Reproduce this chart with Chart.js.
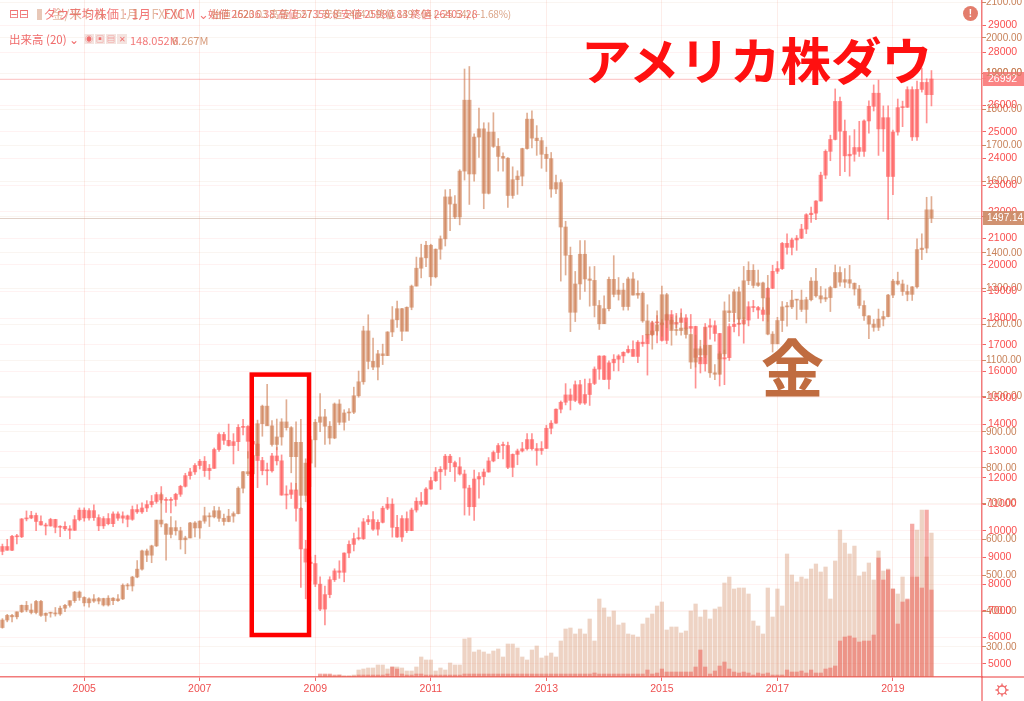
<!DOCTYPE html>
<html>
<head>
<meta charset="utf-8">
<script src="https://cdn.jsdelivr.net/npm/chart.js@4.4.0/dist/chart.umd.min.js"></script>
<style>
html, body { margin: 0; padding: 0; background: #fff; }
#wrap { position: relative; width: 1024px; height: 701px; overflow: hidden; font-family: "Noto Sans CJK JP", "Noto Sans", sans-serif; }
#wrap canvas { position: absolute; left: 0; top: 0; }
.t { position: absolute; white-space: nowrap; line-height: 1; }
.ico { display: inline-block; width: 10px; height: 10px; margin-right: 1px; background: #f4e4e0; color: #f07070; font-size: 8px; text-align: center; line-height: 10px; vertical-align: middle; }
</style>
</head>
<body>
<div id="wrap">
  <canvas id="chart" width="1024" height="701"></canvas>

  <!-- header legend (two legends lying on top of each other) -->
  <div class="t" style="left:9px;top:8px;font-size:12px;color:#f07272;font-family:'DejaVu Sans'">⊟⊟</div>
  <div class="t" style="left:37px;top:9px;width:5px;height:11px;background:#e8c8b8"></div>
  <div class="t" style="left:44px;top:8px;font-size:12.5px;color:rgba(240,95,95,0.85)">ダウ平均株価 · 1月 · FXCM ⌄</div>
  <div class="t" style="left:52px;top:8px;font-size:12.5px;color:rgba(205,130,90,0.55)">金/米ドル · 1月 · FXCM</div>
  <div class="t" style="left:208px;top:9px;font-size:10.5px;color:rgba(240,95,95,0.85)">始値 26236.38 高値 27358.8 安値 25980.83 終値 26403.28</div>
  <div class="t" style="left:211px;top:9px;font-size:10px;letter-spacing:-0.2px;color:rgba(205,130,90,0.75)">始値 1520.03 高値 1557.1 安値 1484.0 終値 1497.04 (−25.54) (−1.68%)</div>

  <div class="t" style="left:9px;top:34px;font-size:11.5px;color:#f06a6a">出来高 (20) ⌄</div>
  <div class="t" style="left:84px;top:34px;font-size:8px"><span class="ico">◉</span><span class="ico">▣</span><span class="ico">▤</span><span class="ico">✕</span></div>
  <div class="t" style="left:130px;top:35px;font-size:11px;color:rgba(240,95,95,0.85)">148.052M</div>
  <div class="t" style="left:172px;top:35px;font-size:11px;color:rgba(205,130,90,0.8)">6.267M</div>

  <!-- alert badge -->
  <div class="t" style="left:963px;top:6px;width:15px;height:15px;border-radius:50%;background:#e37d6c;color:#fff;font:bold 10px 'Liberation Sans';text-align:center;line-height:15px">!</div>

  <!-- annotations -->
  <div class="t" style="left:581px;top:33px;font-size:50.5px;font-weight:700;color:#ff1010">アメリカ株ダウ</div>
  <div class="t" style="left:761px;top:333px;font-size:63px;font-weight:700;color:#c06c40">金</div>
</div>

<script>
// Categories: monthly candles, Aug 2003 .. Jul 2020 (last ten months empty)
const months = []
for (let i = 0; i < 204; i++) {
    const m = 7 + i
    months.push(`${2003 + Math.floor(m / 12)}-${String(m % 12 + 1).padStart(2, '0')}`)
}
const yearTicks = ['2005', '2007', '2009', '2011', '2013', '2015', '2017', '2019']
const dowTicks = [5000, 6000, 7000, 8000, 9000, 10000, 11000, 12000, 13000, 14000, 15000, 16000, 17000,
    18000, 19000, 20000, 21000, 22000, 23000, 24000, 25000, 26000, 27000, 28000, 29000]
const goldTicks = [300, 400, 500, 600, 700, 800, 900, 1000, 1100, 1200, 1300, 1400, 1500, 1600, 1700,
    1800, 1900, 2000, 2100]

// Dow Jones monthly OHLC
const dowOpen = [
    9233, 9416, 9275, 9801, 9782,
    10454, 10488, 10584, 10358, 10226, 10188, 10435, 10140, 10174, 10080, 10027, 10428,
    10783, 10490, 10766, 10504, 10193, 10467, 10275, 10641, 10482, 10569, 10440, 10806,
    10718, 10865, 10993, 11109, 11367, 11168, 11150, 11186, 11381, 11679, 12081, 12222,
    12463, 12622, 12269, 12354, 13063, 13628, 13409, 13212, 13358, 13896, 13930, 13372,
    13265, 12650, 12266, 12263, 12820, 12638, 11350, 11378, 11544, 10851, 9325, 8829,
    8776, 8001, 7063, 7609, 8168, 8500, 8447, 9172, 9496, 9712, 9713, 10345,
    10428, 10067, 10325, 10857, 11009, 10137, 9774, 10466, 10015, 10788, 11118, 11006,
    11578, 11892, 12226, 12320, 12811, 12570, 12414, 12143, 11614, 10913, 11955, 12046,
    12218, 12633, 12952, 13212, 13214, 12393, 12880, 13009, 13091, 13437, 13096, 13026,
    13104, 13861, 14054, 14579, 14840, 15116, 14910, 15500, 14810, 15130, 15546, 16086,
    16577, 15699, 16322, 16458, 16581, 16717, 16827, 16563, 17098, 17043, 17391, 17828,
    17823, 17165, 18133, 17776, 17841, 18011, 17620, 17690, 16528, 16285, 17664, 17720,
    17425, 16466, 16517, 17685, 17774, 17787, 17930, 18432, 18401, 18308, 18142, 19124,
    19763, 19864, 20812, 20663, 20941, 21009, 21350, 21891, 21948, 22405, 23377, 24272,
    24719, 26149, 25029, 24103, 24163, 24416, 24271, 25415, 25965, 26458, 25116, 25538,
    23327, 24999, 25916, 25929, 26593, 24815, 26600, 26864, 26403
]
const dowHigh = [
    9508, 9686, 9838, 9872, 10470,
    10754, 10738, 10678, 10570, 10295, 10479, 10440, 10200, 10348, 10200, 10580, 10868,
    10870, 10842, 10984, 10610, 10542, 10656, 10720, 10720, 10720, 10600, 10940, 10990,
    11060, 11140, 11335, 11450, 11670, 11260, 11260, 11420, 11720, 12170, 12360, 12530,
    12690, 12800, 12500, 13120, 13690, 13710, 14020, 13660, 14000, 14200, 13960, 13790,
    13280, 12770, 12550, 12920, 13140, 12860, 11700, 11810, 11790, 10880, 9650, 9030,
    9090, 8280, 7930, 8280, 8580, 8880, 9180, 9630, 9920, 10120, 10470, 10580,
    10730, 10420, 10930, 11260, 11210, 10590, 10580, 10720, 10860, 11250, 11450, 11630,
    12020, 12390, 12420, 12880, 12880, 12630, 12760, 12290, 11720, 12290, 12200, 12330,
    12760, 13010, 13290, 13340, 13340, 12900, 13080, 13330, 13660, 13660, 13290, 13360,
    13970, 14150, 14590, 14890, 15540, 15340, 15640, 15660, 15710, 15720, 16170, 16590,
    16590, 16400, 16630, 16630, 16740, 16960, 17150, 17160, 17350, 17400, 17890, 18100,
    17950, 18160, 18290, 18180, 18350, 18140, 18140, 17700, 16930, 17800, 17980, 17900,
    17430, 16800, 17790, 18170, 18000, 18020, 18620, 18670, 18450, 18400, 19150, 19990,
    20130, 20850, 21170, 21010, 21110, 21530, 21930, 22180, 22420, 23490, 24330, 24880,
    26620, 26310, 25450, 24860, 25090, 25400, 25460, 26170, 26770, 26950, 25980, 25980,
    25070, 26240, 26160, 26700, 26700, 26910, 27400, 27000, 27310
]
const dowLow = [
    9106, 9275, 9260, 9510, 9750,
    10380, 10460, 10008, 10220, 9852, 10180, 9930, 9785, 10010, 9708, 10020, 10380,
    10368, 10410, 10400, 10012, 10094, 10230, 10160, 10400, 10300, 10156, 10400, 10660,
    10660, 10730, 10900, 11040, 11050, 10700, 10680, 10940, 11300, 11650, 11950, 12130,
    12330, 12050, 11940, 12350, 12990, 13250, 13190, 12520, 13020, 13610, 12740, 13090,
    11630, 12110, 11730, 12210, 12480, 11340, 10830, 11220, 10370, 7880, 7450, 8120,
    7910, 7000, 6470, 7490, 8100, 8220, 8090, 9000, 9250, 9660, 9680, 10240,
    10020, 9840, 10300, 10800, 9770, 9760, 9610, 9940, 10010, 10710, 10930, 11000,
    11570, 11860, 11560, 12090, 12230, 11860, 12100, 10600, 10590, 10400, 11230, 11730,
    12210, 12600, 12720, 12710, 12340, 12040, 12490, 12970, 13040, 13040, 12470, 12880,
    13100, 13650, 14040, 14440, 14740, 14550, 14860, 14760, 14760, 14720, 15500, 15700,
    15690, 15340, 16020, 16020, 16330, 16690, 16560, 16330, 16940, 15860, 17340, 17070,
    17140, 17040, 17580, 17640, 17850, 17560, 17460, 15370, 15940, 16010, 17210, 17140,
    15450, 15500, 16410, 17480, 17330, 17060, 17710, 18240, 17990, 17900, 17880, 19110,
    19680, 19830, 20410, 20380, 20550, 20990, 21180, 21600, 21700, 22400, 23240, 23920,
    24700, 23360, 23510, 23340, 23900, 24080, 24080, 24960, 25790, 24120, 24270, 21710,
    22640, 24880, 25200, 25920, 24680, 24680, 26500, 25340, 25980
]
const dowClose = [
    9416, 9275, 9801, 9782, 10454,
    10488, 10584, 10358, 10226, 10188, 10435, 10140, 10174, 10080, 10027, 10428, 10783,
    10490, 10766, 10504, 10193, 10467, 10275, 10641, 10482, 10569, 10440, 10806, 10718,
    10865, 10993, 11109, 11367, 11168, 11150, 11186, 11381, 11679, 12081, 12222, 12463,
    12622, 12269, 12354, 13063, 13628, 13409, 13212, 13358, 13896, 13930, 13372, 13265,
    12650, 12266, 12263, 12820, 12638, 11350, 11378, 11544, 10851, 9325, 8829, 8776,
    8001, 7063, 7609, 8168, 8500, 8447, 9172, 9496, 9712, 9713, 10345, 10428,
    10067, 10325, 10857, 11009, 10137, 9774, 10466, 10015, 10788, 11118, 11006, 11578,
    11892, 12226, 12320, 12811, 12570, 12414, 12143, 11614, 10913, 11955, 12046, 12218,
    12633, 12952, 13212, 13214, 12393, 12880, 13009, 13091, 13437, 13096, 13026, 13104,
    13861, 14054, 14579, 14840, 15116, 14910, 15500, 14810, 15130, 15546, 16086, 16577,
    15699, 16322, 16458, 16581, 16717, 16827, 16563, 17098, 17043, 17391, 17828, 17823,
    17165, 18133, 17776, 17841, 18011, 17620, 17690, 16528, 16285, 17664, 17720, 17425,
    16466, 16517, 17685, 17774, 17787, 17930, 18432, 18401, 18308, 18142, 19124, 19763,
    19864, 20812, 20663, 20941, 21009, 21350, 21891, 21948, 22405, 23377, 24272, 24719,
    26149, 25029, 24103, 24163, 24416, 24271, 25415, 25965, 26458, 25116, 25538, 23327,
    24999, 25916, 25929, 26593, 24815, 26600, 26864, 26403, 26992
]

// Gold (XAU/USD) monthly OHLC
const goldOpen = [
    354, 375, 388, 384, 398,
    416, 403, 396, 427, 388, 394, 395, 392, 408, 416, 429, 453,
    438, 423, 434, 428, 435, 417, 436, 429, 434, 472, 470, 495,
    517, 568, 556, 582, 654, 643, 614, 633, 624, 599, 604, 646,
    632, 651, 666, 663, 680, 659, 650, 665, 672, 743, 789, 783,
    834, 923, 972, 917, 865, 886, 928, 912, 831, 871, 723, 813,
    878, 927, 942, 916, 883, 978, 927, 953, 955, 1001, 1040, 1182,
    1097, 1081, 1118, 1113, 1179, 1213, 1244, 1181, 1248, 1307, 1357, 1386,
    1421, 1333, 1410, 1439, 1556, 1536, 1500, 1628, 1826, 1620, 1723, 1746,
    1566, 1737, 1697, 1669, 1664, 1560, 1604, 1614, 1691, 1773, 1720, 1713,
    1675, 1663, 1578, 1596, 1472, 1393, 1234, 1313, 1396, 1327, 1323, 1253,
    1202, 1244, 1326, 1284, 1296, 1250, 1327, 1282, 1287, 1210, 1171, 1182,
    1199, 1283, 1212, 1183, 1183, 1190, 1172, 1095, 1132, 1115, 1142, 1065,
    1061, 1118, 1238, 1233, 1291, 1215, 1322, 1351, 1309, 1316, 1274, 1173,
    1146, 1211, 1249, 1249, 1268, 1268, 1242, 1269, 1321, 1280, 1271, 1275,
    1303, 1345, 1318, 1325, 1315, 1299, 1253, 1224, 1201, 1192, 1215, 1222,
    1282, 1321, 1313, 1292, 1284, 1305, 1409, 1413, 1520
]
const goldHigh = [
    379, 391, 391, 398, 417,
    427, 420, 430, 430, 395, 397, 410, 414, 419, 429, 455, 456,
    440, 437, 446, 438, 436, 443, 438, 446, 476, 477, 497, 541,
    570, 573, 584, 654, 730, 644, 664, 652, 634, 609, 648, 650,
    652, 690, 674, 692, 690, 671, 684, 677, 747, 790, 845, 840,
    933, 975, 1033, 932, 936, 937, 990, 915, 928, 935, 825, 888,
    935, 1007, 963, 929, 981, 990, 962, 965, 1025, 1070, 1195, 1227,
    1162, 1128, 1145, 1180, 1250, 1265, 1245, 1249, 1310, 1388, 1424, 1432,
    1424, 1411, 1447, 1576, 1577, 1560, 1632, 1913, 1920, 1732, 1804, 1763,
    1763, 1791, 1719, 1679, 1666, 1640, 1629, 1692, 1790, 1796, 1755, 1722,
    1695, 1680, 1617, 1604, 1488, 1416, 1348, 1434, 1434, 1361, 1362, 1267,
    1280, 1332, 1392, 1331, 1315, 1332, 1345, 1322, 1291, 1255, 1208, 1238,
    1307, 1287, 1220, 1224, 1232, 1205, 1175, 1170, 1156, 1191, 1142, 1088,
    1124, 1263, 1283, 1297, 1304, 1362, 1375, 1367, 1352, 1318, 1337, 1180,
    1220, 1264, 1262, 1295, 1270, 1296, 1276, 1331, 1357, 1306, 1299, 1307,
    1366, 1361, 1356, 1365, 1316, 1309, 1266, 1225, 1214, 1243, 1237, 1284,
    1326, 1346, 1324, 1310, 1306, 1439, 1453, 1555, 1557
]
const goldLow = [
    352, 370, 370, 378, 396,
    398, 392, 392, 385, 371, 383, 386, 388, 398, 411, 424, 430,
    414, 411, 424, 420, 414, 414, 418, 427, 432, 460, 456, 493,
    514, 538, 535, 580, 635, 542, 604, 612, 573, 560, 604, 607,
    603, 645, 636, 660, 650, 640, 649, 648, 671, 730, 778, 780,
    834, 888, 918, 860, 850, 863, 905, 786, 737, 681, 705, 747,
    802, 901, 865, 866, 881, 920, 905, 932, 951, 997, 1033, 1076,
    1074, 1045, 1088, 1113, 1166, 1192, 1155, 1182, 1241, 1307, 1330, 1361,
    1309, 1330, 1382, 1419, 1462, 1495, 1478, 1603, 1535, 1600, 1666, 1523,
    1564, 1694, 1628, 1628, 1527, 1552, 1563, 1587, 1689, 1693, 1672, 1636,
    1627, 1555, 1565, 1321, 1338, 1180, 1208, 1270, 1292, 1251, 1221, 1186,
    1202, 1238, 1277, 1268, 1240, 1240, 1282, 1273, 1206, 1161, 1131, 1170,
    1167, 1191, 1142, 1170, 1170, 1162, 1077, 1081, 1098, 1107, 1052, 1046,
    1061, 1111, 1208, 1208, 1200, 1199, 1311, 1302, 1306, 1241, 1171, 1123,
    1146, 1180, 1195, 1244, 1214, 1236, 1204, 1266, 1276, 1260, 1264, 1236,
    1302, 1307, 1303, 1302, 1282, 1245, 1211, 1160, 1181, 1183, 1196, 1221,
    1275, 1310, 1281, 1266, 1267, 1301, 1381, 1400, 1484
]
const goldClose = [
    375, 388, 384, 398, 416,
    403, 396, 427, 388, 394, 395, 392, 408, 416, 429, 453, 438,
    423, 434, 428, 435, 417, 436, 429, 434, 472, 470, 495, 517,
    568, 556, 582, 654, 643, 614, 633, 624, 599, 604, 646, 632,
    651, 666, 663, 680, 659, 650, 665, 672, 743, 789, 783, 834,
    923, 972, 917, 865, 886, 928, 912, 831, 871, 723, 813, 878,
    927, 942, 916, 883, 978, 927, 953, 955, 1001, 1040, 1182, 1097,
    1081, 1118, 1113, 1179, 1213, 1244, 1181, 1248, 1307, 1357, 1386, 1421,
    1333, 1410, 1439, 1556, 1536, 1500, 1628, 1826, 1620, 1723, 1746, 1566,
    1737, 1697, 1669, 1664, 1560, 1604, 1614, 1691, 1773, 1720, 1713, 1675,
    1663, 1578, 1596, 1472, 1393, 1234, 1313, 1396, 1327, 1323, 1253, 1202,
    1244, 1326, 1284, 1296, 1250, 1327, 1282, 1287, 1210, 1171, 1182, 1199,
    1283, 1212, 1183, 1183, 1190, 1172, 1095, 1132, 1115, 1142, 1065, 1061,
    1118, 1238, 1233, 1291, 1215, 1322, 1351, 1309, 1316, 1274, 1173, 1146,
    1211, 1249, 1249, 1268, 1268, 1242, 1269, 1321, 1280, 1271, 1275, 1303,
    1345, 1318, 1325, 1315, 1299, 1253, 1224, 1201, 1192, 1215, 1222, 1282,
    1321, 1313, 1292, 1284, 1305, 1409, 1413, 1520, 1497.14
]

// Volume (thousands), null = no data
const goldVolume = [
    null, null, null, null, null,
    null, null, null, null, null, null, null, null, null, null, null, null,
    null, null, null, null, null, null, null, null, null, null, null, null,
    null, null, null, null, null, null, null, null, null, null, null, null,
    null, null, null, null, null, null, null, null, null, null, null, null,
    null, null, null, null, null, null, null, null, null, null, null, null,
    null, 1, 2, 2, 1, 2, 1, 1, 2, 7, 8, 9,
    9, 12, 12, 8, 10, 10, 9, 6, 6, 10, 20, 17,
    17, 6, 9, 7, 14, 12, 12, 38, 39, 25, 27, 25,
    23, 26, 28, 20, 33, 33, 29, 20, 17, 27, 31, 19,
    21, 24, 20, 36, 48, 49, 43, 48, 43, 58, 36, 78,
    69, 60, 66, 52, 54, 43, 42, 40, 53, 59, 63, 71,
    75, 47, 50, 50, 44, 46, 66, 73, 60, 67, 58, 68,
    70, 94, 100, 88, 89, 89, 83, 56, 51, 43, 89, 60,
    88, 71, 123, 102, 95, 100, 98, 108, 113, 105, 110, 78,
    116, 147, 134, 123, 131, 101, 105, 114, 97, 126, 106, 108,
    88, 83, 100, 77, 100, 147, 167, 120, 144
]
const dowVolume = [
    null, null, null, null, null,
    null, null, null, null, null, null, null, null, null, null, null, null,
    null, null, null, null, null, null, null, null, null, null, null, null,
    null, null, null, null, null, null, null, null, null, null, null, null,
    null, null, null, null, null, null, null, null, null, null, null, null,
    null, null, null, null, null, null, null, null, null, null, null, null,
    null, 3, 3, 3, 2, 2, 1, 1, 1, 2, 2, 2,
    2, 2, 2, 3, 10, 8, 3, 2, 2, 3, 3, 2,
    2, 2, 2, 2, 2, 2, 2, 3, 3, 3, 3, 3,
    3, 3, 3, 3, 3, 3, 3, 3, 3, 3, 3, 3,
    3, 3, 3, 3, 3, 3, 3, 3, 3, 3, 4, 3,
    3, 3, 3, 3, 3, 3, 3, 3, 3, 7, 3, 4,
    8, 5, 5, 5, 5, 5, 5, 10, 27, 10, 3, 6,
    11, 15, 8, 5, 4, 5, 4, 2, 4, 3, 4, 2,
    2, 2, 7, 5, 5, 6, 4, 7, 4, 4, 8, 9,
    11, 36, 40, 41, 39, 35, 36, 36, 42, 119, 97, 107,
    88, 53, 75, 78, 153, 100, 89, 167, 87
]

// Annotation: red box around 2008 (category index / Dow value)
const crashBox = { from: 51.8, to: 63.7, top: 15880, bottom: 6090 }
const dowLast = 26992
const goldLast = 1497.14

const DOW = 'rgba(255,90,90,0.66)'
const GOLD = 'rgba(205,125,80,0.62)'
const DOW_FONT = { family: 'Liberation Sans', size: 10.5 }
const GOLD_FONT = { family: 'Liberation Sans', size: 10 }

function pairs (a, b) {
    return a.map((v, i) => [v, b[i]])
}

// Extra drawing: price lines, red box, price tags, icons
const overlayPlugin = {
    id: 'overlay',
    afterLayout (chart) {
        // gold axis takes no room in the layout but shares the Dow axis strip
        const g = chart.scales.yGold
        g.right = g.left + 42
        g.width = 42
    },
    beforeDatasetsDraw (chart) {
        const { ctx, chartArea: a, scales } = chart
        ctx.save()
        ctx.lineWidth = 1
        let y = Math.round(scales.yDow.getPixelForValue(dowLast)) + 0.5
        ctx.strokeStyle = 'rgba(245,110,110,0.35)'
        ctx.beginPath(); ctx.moveTo(a.left, y); ctx.lineTo(a.right, y); ctx.stroke()
        y = Math.round(scales.yGold.getPixelForValue(goldLast)) + 0.5
        ctx.strokeStyle = 'rgba(190,150,130,0.45)'
        ctx.beginPath(); ctx.moveTo(a.left, y); ctx.lineTo(a.right, y); ctx.stroke()
        ctx.restore()
    },
    afterDraw (chart) {
        const { ctx, chartArea: a, scales } = chart
        ctx.save()

        // red box
        const x1 = scales.x.getPixelForValue(crashBox.from)
        const x2 = scales.x.getPixelForValue(crashBox.to)
        const y1 = scales.yDow.getPixelForValue(crashBox.top)
        const y2 = scales.yDow.getPixelForValue(crashBox.bottom)
        ctx.strokeStyle = '#ff0000'
        ctx.lineWidth = 4.5
        ctx.strokeRect(x1, y1, x2 - x1, y2 - y1)

        // axis lines carried to the canvas edges
        ctx.strokeStyle = 'rgba(240,100,100,0.85)'
        ctx.lineWidth = 1.5
        ctx.beginPath()
        ctx.moveTo(a.right, a.bottom); ctx.lineTo(1024, a.bottom)
        ctx.moveTo(a.right, a.bottom); ctx.lineTo(a.right, 701)
        ctx.stroke()

        // price tags (gold axis label 1900.00 stays on top of the Dow tag)
        ctx.textBaseline = 'middle'
        ctx.font = '10.5px "Liberation Sans"'
        let y = scales.yDow.getPixelForValue(dowLast)
        ctx.fillStyle = 'rgba(250,125,125,0.95)'
        ctx.fillRect(a.right + 1, y - 7, 1024 - a.right, 14)
        ctx.fillStyle = '#fff'
        ctx.fillText(String(dowLast), a.right + 6, y)
        ctx.font = '10px "Liberation Sans"'
        ctx.fillStyle = 'rgba(200,130,90,0.9)'
        ctx.fillText('1900.00', a.right + 4, scales.yGold.getPixelForValue(1900))
        y = scales.yGold.getPixelForValue(goldLast)
        ctx.fillStyle = 'rgba(205,140,105,0.95)'
        ctx.fillRect(a.right + 1, y - 7, 1024 - a.right, 14)
        ctx.fillStyle = '#fff'
        ctx.fillText(goldLast.toFixed(2), a.right + 5, y)

        // gear icon
        const gx = 1002, gy = 690
        ctx.strokeStyle = 'rgba(240,90,90,0.9)'
        ctx.lineWidth = 1.3
        ctx.beginPath(); ctx.arc(gx, gy, 4, 0, Math.PI * 2); ctx.stroke()
        ctx.beginPath()
        for (let k = 0; k < 8; k++) {
            const an = k * Math.PI / 4
            ctx.moveTo(gx + Math.cos(an) * 4, gy + Math.sin(an) * 4)
            ctx.lineTo(gx + Math.cos(an) * 6.5, gy + Math.sin(an) * 6.5)
        }
        ctx.stroke()
        ctx.restore()
    }
}

const candle = (yAxisID, color, thickness, order) => ({
    yAxisID, backgroundColor: color, borderWidth: 0, barThickness: thickness,
    grouped: false, minBarLength: 1, order
})

new Chart(document.getElementById('chart'), {
    type: 'bar',
    data: {
        labels: months,
        datasets: [
            { ...candle('yGold', GOLD, 1, 2), data: pairs(goldLow, goldHigh) },
            { ...candle('yGold', GOLD, 3.6, 1), data: pairs(goldOpen, goldClose) },
            { ...candle('yDow', DOW, 1, 4), data: pairs(dowLow, dowHigh) },
            { ...candle('yDow', DOW, 3.6, 3), data: pairs(dowOpen, dowClose) },
            { yAxisID: 'yVol', data: goldVolume, backgroundColor: 'rgba(215,150,115,0.42)', barThickness: 3.6, grouped: false, order: 6 },
            { yAxisID: 'yVol', data: dowVolume, backgroundColor: 'rgba(235,85,75,0.5)', barThickness: 3.6, grouped: false, order: 5 }
        ]
    },
    options: {
        responsive: false,
        animation: false,
        devicePixelRatio: 1,
        layout: { padding: 0 },
        plugins: { legend: { display: false }, tooltip: { enabled: false } },
        scales: {
            x: {
                type: 'category',
                offset: true,
                grid: { offset: false, color: 'rgba(240,140,120,0.16)', tickColor: 'rgba(240,90,90,0.9)', tickLength: 4 },
                border: { color: 'rgba(240,100,100,0.85)', width: 1.5 },
                ticks: {
                    autoSkip: false, maxRotation: 0, padding: 2, color: 'rgb(238,80,80)', font: DOW_FONT,
                    callback: function (v) { return this.getLabelForValue(v).slice(0, 4) }
                },
                afterBuildTicks: s => {
                    s.ticks = s.ticks.filter(t => months[t.value].endsWith('-01') && yearTicks.includes(months[t.value].slice(0, 4)))
                },
                afterFit: s => { s.height = 24; s.paddingLeft = 0; s.paddingRight = 0 }
            },
            yGold: {
                position: 'right', weight: 0, min: 216, max: 2105.6,
                grid: { color: 'rgba(205,140,100,0.09)', tickColor: 'rgb(205,140,100)', tickLength: 4 },
                border: { display: false },
                ticks: { color: 'rgb(200,130,90)', font: GOLD_FONT, padding: 0, callback: v => v.toFixed(2) },
                afterBuildTicks: s => { s.ticks = goldTicks.map(v => ({ value: v })) },
                afterFit: s => { s.width = 0; s.paddingTop = 0; s.paddingBottom = 0 }
            },
            yDow: {
                position: 'right', weight: 1, min: 4511, max: 29962,
                grid: { color: 'rgba(250,110,110,0.09)', tickColor: 'rgb(245,100,100)', tickLength: 4 },
                border: { color: 'rgba(240,100,100,0.85)', width: 1.5 },
                ticks: { color: 'rgb(250,80,80)', font: DOW_FONT, padding: 2, callback: v => String(v) },
                afterBuildTicks: s => { s.ticks = dowTicks.map(v => ({ value: v })) },
                afterFit: s => { s.width = 42; s.paddingTop = 0; s.paddingBottom = 0 }
            },
            yVol: { display: false, min: 0, max: 677 }
        }
    },
    plugins: [overlayPlugin]
})
</script>
</body>
</html>
